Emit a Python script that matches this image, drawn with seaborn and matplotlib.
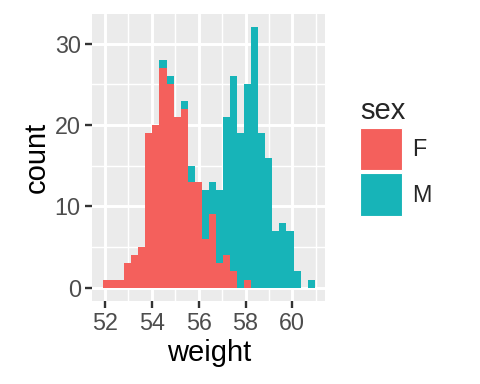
import numpy as np
import pandas as pd
import seaborn as sns
import matplotlib
matplotlib.use("Agg")
import matplotlib.pyplot as plt
from matplotlib.patches import Patch
from matplotlib.ticker import MultipleLocator

# ---- data ----
sexes = ["F", "M"]
sex_colors = ["#F4605C", "#17B4B8"]
F_counts = [1, 1, 1, 3, 4, 5, 19, 20, 27, 25, 21, 22, 13, 13, 6, 9, 3, 4, 2, 0,
            1, 0, 0, 0, 0, 0, 0, 0, 0, 0]
M_counts = [0, 0, 0, 0, 0, 0, 0, 0, 1, 1, 0, 1, 2, 0, 6, 4, 9, 17, 24, 19,
            24, 32, 19, 16, 7, 8, 7, 2, 0, 1]
x_ticks = [52, 54, 56, 58, 60]
y_ticks = [0, 10, 20, 30]

# histogram binning (30 bins)
bin_edges = np.linspace(51.915, 60.955, 31)
bin_centers = (bin_edges[:-1] + bin_edges[1:]) / 2

df = pd.DataFrame({
    "weight": np.concatenate([bin_centers, bin_centers]),
    "sex": np.repeat(sexes, len(bin_centers)),
    "count": F_counts + M_counts,
})

sns.set_theme(style="darkgrid")
plt.rcParams["font.family"] = ["Liberation Sans", "DejaVu Sans"]

fig = plt.figure(figsize=(4.8, 3.84), dpi=100)
ax = fig.add_axes([0.1925, 0.2169, 0.4852, 0.7456])

palette = dict(zip(sexes, sex_colors))
sns.histplot(data=df, x="weight", hue="sex", weights="count",
             bins=[float(b) for b in bin_edges],
             multiple="stack", hue_order=["M", "F"], palette=palette,
             alpha=1, linewidth=0, ax=ax, legend=False)

ax.set_facecolor("#EBEBEB")
ax.set_xlim(51.463, 61.407)
ax.set_ylim(-1.6, 33.6)
ax.set_xticks(x_ticks)
ax.set_yticks(y_ticks)
ax.xaxis.set_minor_locator(MultipleLocator(1))
ax.yaxis.set_minor_locator(MultipleLocator(5))
ax.grid(which="major", color="white", linewidth=2.1)
ax.grid(which="minor", color="white", linewidth=1.05)
ax.set_axisbelow(True)
for s in ax.spines.values():
    s.set_visible(False)

ax.tick_params(axis="both", which="major", length=4.8, width=1.7, color="#333333",
               labelsize=16.8, labelcolor="#4D4D4D", pad=3.5,
               bottom=True, left=True)
ax.tick_params(axis="both", which="minor", length=0)

ax.set_xlabel("weight", fontsize=21, color="black", labelpad=3)
ax.set_ylabel("count", fontsize=21, color="black", labelpad=3)

handles = [Patch(facecolor=c, edgecolor="white", linewidth=0.8, label=s)
           for s, c in zip(sexes, sex_colors)]
leg = ax.legend(handles=handles, title="sex", loc="upper left",
                bbox_to_anchor=(0.75, 0.748), bbox_transform=fig.transFigure,
                frameon=False, fontsize=16.8, title_fontsize=21,
                handlelength=1.8, handleheight=2.45, labelspacing=0.12,
                handletextpad=0.45, borderpad=0, borderaxespad=0,
                alignment="left")

fig.savefig("out.png", dpi=100)
